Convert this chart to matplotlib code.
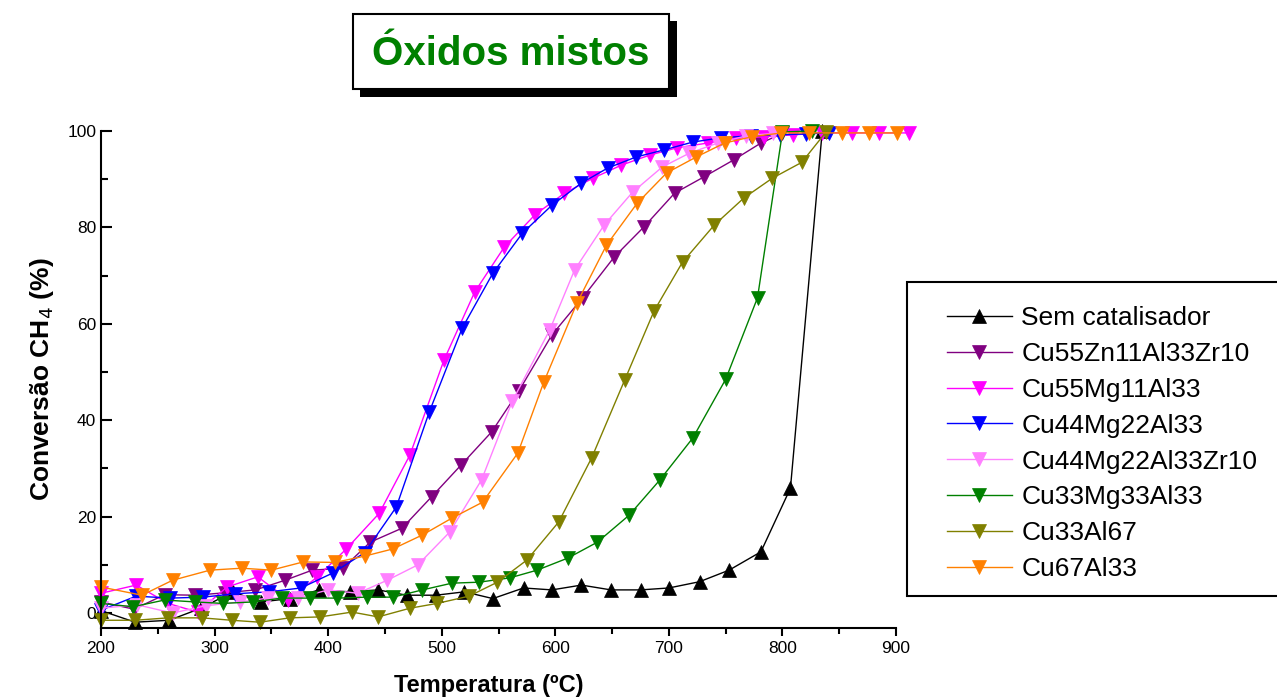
import matplotlib
matplotlib.use('Agg')
import matplotlib.pyplot as plt
from matplotlib.patches import Rectangle
from matplotlib.ticker import MultipleLocator

plt.rcParams['font.family'] = ['Liberation Sans', 'DejaVu Sans']

# Data (temperature in ºC, CH4 conversion in %)
t_sem = [200, 230, 260, 288, 316, 341, 366, 392, 419, 444, 469, 495, 520, 545, 572,
         597, 623, 649, 675, 700, 727, 753, 781, 807, 835]
y_sem = [0.5, -1.9, -1.5, 1.0, 4.4, 2.3, 3.0, 4.8, 4.4, 4.8, 3.7, 3.7, 4.4, 3.0, 5.2,
         4.8, 5.8, 4.8, 4.8, 5.2, 6.5, 8.9, 12.7, 25.9, 100.0]

t_znzr = [200, 229, 256, 283, 309, 336, 362, 386, 413, 437, 465, 491, 517, 544, 568,
          597, 624, 652, 678, 705, 731, 757, 781, 800]
y_znzr = [2.3, 0.8, 3.8, 3.7, 4.2, 4.8, 6.8, 8.9, 9.3, 14.7, 17.6, 24.1, 30.7, 37.6, 46.1,
          57.7, 65.4, 73.9, 80.1, 87.1, 90.5, 94.0, 97.5, 99.5]

t_mg11 = [200, 231, 259, 285, 311, 338, 365, 390, 416, 445, 472, 502, 529, 555, 582,
          608, 633, 658, 683, 707, 734, 759, 784, 809, 835, 861, 885, 911]
y_mg11 = [4.1, 5.8, 2.0, 0.2, 5.4, 7.5, 2.8, 7.4, 13.3, 20.7, 32.8, 52.5, 66.6, 75.9, 82.6,
          87.1, 90.2, 92.9, 95.0, 96.5, 97.5, 98.5, 98.8, 99.2, 99.6, 99.6, 99.6, 99.6]

t_mg22 = [200, 231, 261, 290, 318, 348, 376, 404, 432, 460, 489, 518, 545, 571, 597,
          623, 646, 671, 696, 721, 746, 772, 798, 821, 841]
y_mg22 = [0.6, 3.5, 3.1, 3.3, 4.0, 4.4, 5.2, 8.3, 12.5, 22.0, 41.7, 59.1, 70.5, 78.8, 84.6,
          89.2, 92.3, 94.6, 96.1, 97.7, 98.6, 99.0, 99.2, 99.4, 99.6]

t_mg22zr = [200, 232, 263, 292, 322, 347, 373, 400, 426, 452, 479, 507, 535, 562, 595,
            617, 643, 668, 694, 718, 743, 768, 792]
y_mg22zr = [1.0, 1.7, 0.0, 1.5, 2.3, 3.1, 3.1, 4.8, 4.1, 6.8, 10.0, 16.8, 27.6, 43.9, 58.7,
            71.2, 80.5, 87.3, 92.5, 95.4, 97.5, 99.0, 99.5]

t_mg33 = [200, 228, 256, 283, 307, 334, 359, 384, 408, 434, 457, 483, 509, 533, 560,
          584, 611, 637, 665, 692, 721, 750, 778, 800, 826]
y_mg33 = [2.0, 1.3, 2.7, 2.3, 2.0, 2.3, 3.1, 3.1, 3.1, 3.3, 3.3, 4.8, 6.2, 6.4, 7.3,
          8.9, 11.4, 14.7, 20.3, 27.6, 36.3, 48.5, 65.4, 99.8, 100.0]

t_al67 = [200, 230, 259, 289, 315, 340, 366, 393, 421, 444, 472, 496, 524, 549, 575,
          603, 632, 661, 687, 712, 740, 766, 791, 817, 838]
y_al67 = [-1.5, -1.5, -1.0, -1.0, -1.5, -1.9, -1.0, -0.8, 0.2, -0.8, 1.0, 2.0, 3.5, 6.4, 11.0,
          18.9, 32.2, 48.3, 62.7, 72.8, 80.5, 86.1, 90.2, 93.5, 99.7]

t_cu67 = [200, 236, 263, 296, 324, 350, 378, 406, 432, 457, 483, 509, 536, 567, 590,
          619, 645, 672, 698, 724, 749, 773, 799, 823, 852, 876, 901]
y_cu67 = [5.4, 3.7, 6.8, 8.9, 9.3, 8.9, 10.6, 10.5, 11.8, 13.3, 16.2, 19.7, 23.0, 33.2, 48.0,
          64.3, 76.3, 85.0, 91.3, 94.6, 97.5, 98.8, 99.6, 99.6, 99.6, 99.6, 99.6]

series = [
    (t_sem, y_sem, 'Sem catalisador', 'black', '^'),
    (t_znzr, y_znzr, 'Cu55Zn11Al33Zr10', '#800080', 'v'),
    (t_mg11, y_mg11, 'Cu55Mg11Al33', '#FF00FF', 'v'),
    (t_mg22, y_mg22, 'Cu44Mg22Al33', '#0000FF', 'v'),
    (t_mg22zr, y_mg22zr, 'Cu44Mg22Al33Zr10', '#FF80FF', 'v'),
    (t_mg33, y_mg33, 'Cu33Mg33Al33', '#008000', 'v'),
    (t_al67, y_al67, 'Cu33Al67', '#808000', 'v'),
    (t_cu67, y_cu67, 'Cu67Al33', '#FF8000', 'v'),
]

fig = plt.figure(figsize=(12.77, 6.99), dpi=100)
ax = fig.add_axes([0.0791, 0.1016, 0.6226, 0.711])

for t, y, label, color, marker in series:
    ax.plot(t, y, color=color, lw=1.0, marker=marker, markersize=10,
            markerfacecolor=color, markeredgecolor=color, markeredgewidth=0.5,
            label=label, clip_on=False)

ax.set_xlim(200, 900)
ax.set_ylim(-3.1, 100)
ax.xaxis.set_major_locator(MultipleLocator(100))
ax.xaxis.set_minor_locator(MultipleLocator(50))
ax.yaxis.set_major_locator(MultipleLocator(20))
ax.yaxis.set_minor_locator(MultipleLocator(10))
ax.tick_params(axis='x', which='major', direction='out', length=6, width=1.5, labelsize=12.5)
ax.tick_params(axis='x', which='minor', direction='out', length=4, width=1.5)
ax.tick_params(axis='y', which='major', direction='in', length=8, width=1.5, labelsize=12.5)
ax.tick_params(axis='y', which='minor', direction='in', length=5, width=1.5)

ax.spines['top'].set_visible(False)
ax.spines['right'].set_visible(False)
ax.spines['left'].set_linewidth(1.5)
ax.spines['bottom'].set_linewidth(1.5)

ax.set_xlabel('Temperatura (ºC)', fontsize=17, fontweight='bold')
ax.xaxis.set_label_coords(0.488, -0.092)
ax.set_ylabel('Conversão CH$_4$ (%)', fontsize=19, fontweight='bold', labelpad=8)

# Legend frame drawn separately so it runs past the right edge like the original
fig.patches.append(Rectangle((907 / 1277, 1 - 596 / 699), 400 / 1277, 314 / 699,
                             transform=fig.transFigure, facecolor='white',
                             edgecolor='black', linewidth=1.5, zorder=-1))
leg = ax.legend(loc='upper left', bbox_to_anchor=(947 / 1277, 1 - 306 / 699),
                bbox_transform=fig.transFigure, fontsize=19, frameon=False,
                handlelength=2.45, handletextpad=0.37, borderpad=0,
                labelspacing=0.45, borderaxespad=0)

# Title box with drop shadow
fig.patches.append(Rectangle((360 / 1277, 1 - 97 / 699), 317 / 1277, 76 / 699,
                             transform=fig.transFigure, facecolor='black',
                             edgecolor='none', zorder=-2))
fig.patches.append(Rectangle((353 / 1277, 1 - 89 / 699), 316 / 1277, 75 / 699,
                             transform=fig.transFigure, facecolor='white',
                             edgecolor='black', linewidth=1.5, zorder=-1))
fig.text(511 / 1277, 1 - 54 / 699, 'Óxidos mistos', fontsize=29, fontweight='bold',
         color='#008000', ha='center', va='center', zorder=3)

fig.savefig('out.png', dpi=100)
